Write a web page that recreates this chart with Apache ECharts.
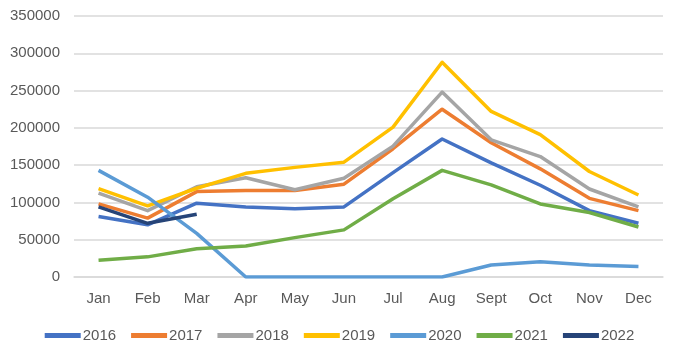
<!DOCTYPE html>
<html>
<head>
<meta charset="utf-8">
<script src="https://cdn.jsdelivr.net/npm/echarts@6/dist/echarts.min.js"></script>
<style>html,body{margin:0;padding:0;background:#fff;}#c{width:679px;height:358px;}</style>
</head>
<body>
<div id="c"></div>
<script>
const months = ['Jan','Feb','Mar','Apr','May','Jun','Jul','Aug','Sept','Oct','Nov','Dec'];
const y2016 = [81000, 70000, 99000, 94000, 91500, 94000, 140000, 185000, 153000, 123000, 89000, 72000];
const y2017 = [98000, 79000, 114500, 116000, 116000, 124500, 172000, 225000, 180000, 145000, 105500, 89000];
const y2018 = [112500, 89000, 121000, 133000, 117000, 132500, 175500, 248000, 184000, 161500, 118000, 94000];
const y2019 = [118500, 95500, 119000, 139000, 147000, 154000, 201000, 288000, 222000, 191000, 141500, 110000];
const y2020 = [143000, 107000, 58500, 0, 0, 0, 0, 0, 16000, 20500, 16000, 14000];
const y2021 = [22500, 27000, 38000, 41700, 52800, 63200, 105000, 143000, 123500, 98000, 86500, 67000];
const y2022 = [94000, 72000, 84200];
const seriesNames = ['2016','2017','2018','2019','2020','2021','2022'];
const seriesData = [y2016, y2017, y2018, y2019, y2020, y2021, y2022];
const colors = ['#4472C4','#ED7D31','#A5A5A5','#FFC000','#5B9BD5','#70AD47','#264478'];
const yTicks = [0, 50000, 100000, 150000, 200000, 250000, 300000, 350000];

const chart = echarts.init(document.getElementById('c'));
const textColor = '#595959';
const font = 'Liberation Sans, Arial, sans-serif';
chart.setOption({
  animation: false,
  color: colors,
  grid: {left: 74, right: 16, top: 16, bottom: 81},
  legend: {
    bottom: 10,
    left: 'center',
    itemWidth: 36,
    itemHeight: 5,
    itemGap: 15,
    icon: 'rect',
    textStyle: {color: textColor, fontSize: 15, fontFamily: font, padding: [0,0,0,-3]},
    data: seriesNames
  },
  xAxis: {
    type: 'category',
    data: months,
    boundaryGap: true,
    axisLine: {show: true, lineStyle: {color: '#d9d9d9', width: 1.5}},
    axisTick: {show: false},
    axisLabel: {color: textColor, fontSize: 15, fontFamily: font, margin: 14}
  },
  yAxis: {
    type: 'value',
    min: yTicks[0],
    max: yTicks[yTicks.length - 1],
    interval: 50000,
    axisLine: {show: false},
    axisTick: {show: false},
    splitLine: {lineStyle: {color: '#d9d9d9', width: 1.5}},
    axisLabel: {color: textColor, fontSize: 15, fontFamily: font, margin: 14, formatter: v => String(v)}
  },
  series: seriesNames.map((n, i) => ({
    name: n,
    type: 'line',
    data: seriesData[i],
    symbol: 'none',
    lineStyle: {width: 3.5, color: colors[i], join: 'round'},
    itemStyle: {color: colors[i]}
  }))
});
</script>
</body>
</html>
